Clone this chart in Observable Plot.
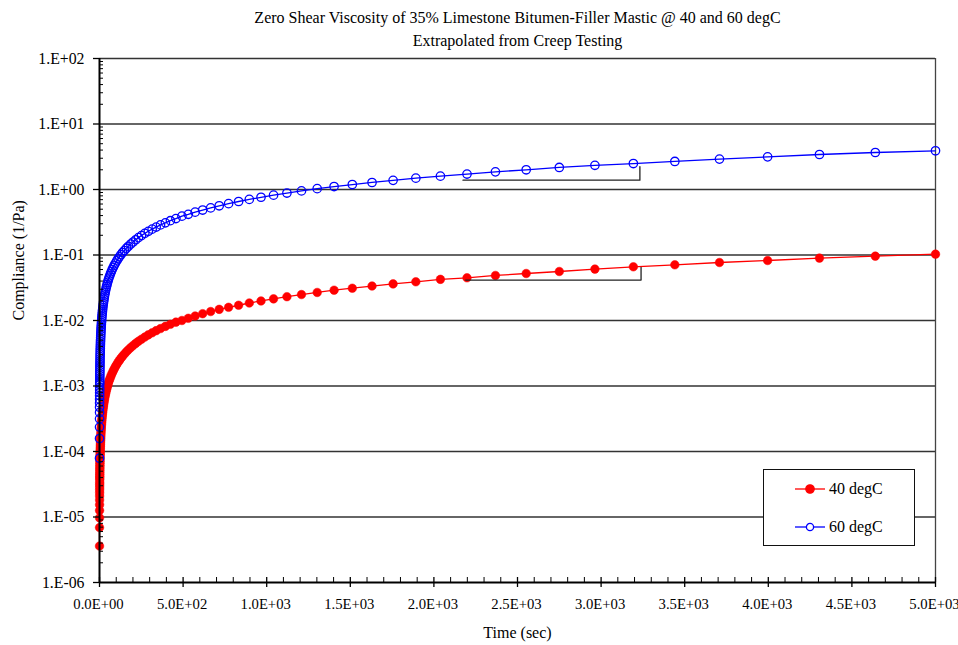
<!DOCTYPE html>
<html>
<head>
<meta charset="utf-8">
<script src="https://cdn.jsdelivr.net/npm/d3@7"></script>
<script src="https://cdn.jsdelivr.net/npm/@observablehq/plot@0.6"></script>
<style>
  html, body { margin: 0; padding: 0; background: #fff; }
  #wrap { position: relative; width: 958px; height: 645px; font-family: "Liberation Serif", "Times New Roman", serif; }
  #legend { position: absolute; left: 763px; top: 469px; width: 152px; height: 77px; border: 1.3px solid #111; background: #fff; box-sizing: border-box; }
  .item { position: absolute; left: 31px; height: 18px; display: flex; align-items: center; font-size: 16px; color: #000; }
  .item svg { margin-right: 3px; }
</style>
</head>
<body>
<div id="wrap"></div>
<script>
// ---- data ----
const seriesNames = ["40 degC", "60 degC"];
const seriesColors = ["#ff0000", "#0000ff"];

// time (sec)
const time = [0.1,0.2,0.3,0.4,0.5,0.6,0.7,0.8,0.9,1.0,1.1,1.2,
  1.35,1.45,1.56,1.68,1.81,1.96,2.11,2.27,2.45,2.64,2.84,3.06,3.30,3.56,3.83,4.13,4.45,4.80,5.17,5.57,
  6.00,6.47,6.97,7.51,8.09,8.72,9.40,10.1,10.9,11.8,12.7,13.7,14.7,15.9,17.1,18.4,19.8,21.4,23.0,24.8,
  26.7,28.8,31.1,33.5,36.1,38.9,41.9,45.1,48.6,52.4,56.5,60.9,65.6,70.7,76.2,82.1,88.4,95.3,103,111,
  119,128,138,149,161,173,187,201,217,233,251,271,292,315,339,365,394,424,457,493,531,572,617,665,716,
  772,832,896,966,1041,1121,1208,1302,1403,1512,1630,1756,1892,2039,2198,2368,2552,2750,2963,3193,3441,
  3708,3996,4306,4640,5000];

// compliance (1/Pa) at 40 degC
const compliance40 = [3.6e-6,6.9e-6,9.7e-6,1.26e-5,1.54e-5,1.82e-5,2.09e-5,2.35e-5,2.61e-5,2.86e-5,3.11e-5,3.35e-5,
  3.71e-5,3.95e-5,4.20e-5,4.48e-5,4.77e-5,5.11e-5,5.44e-5,5.79e-5,6.18e-5,6.59e-5,7.02e-5,7.49e-5,7.99e-5,8.54e-5,9.10e-5,9.73e-5,1.04e-4,1.11e-4,1.19e-4,1.27e-4,
  1.36e-4,1.46e-4,1.56e-4,1.67e-4,1.79e-4,1.92e-4,2.06e-4,2.21e-4,2.37e-4,2.55e-4,2.74e-4,2.95e-4,3.15e-4,3.40e-4,3.65e-4,3.91e-4,4.20e-4,4.53e-4,4.86e-4,5.23e-4,
  5.62e-4,6.06e-4,6.53e-4,7.03e-4,7.56e-4,8.14e-4,8.76e-4,9.42e-4,1.01e-3,1.09e-3,1.18e-3,1.27e-3,1.36e-3,1.47e-3,1.58e-3,1.70e-3,1.83e-3,1.98e-3,2.13e-3,2.30e-3,
  2.46e-3,2.65e-3,2.86e-3,3.08e-3,3.33e-3,3.58e-3,3.86e-3,4.15e-3,4.48e-3,4.81e-3,5.18e-3,5.59e-3,6.03e-3,6.50e-3,7.00e-3,7.53e-3,8.13e-3,8.75e-3,9.43e-3,1.00e-2,1.08e-2,1.17e-2,1.27e-2,1.37e-2,1.48e-2,
  1.59e-2,1.71e-2,1.85e-2,1.99e-2,2.14e-2,2.31e-2,2.49e-2,2.68e-2,2.90e-2,3.11e-2,3.36e-2,3.62e-2,3.90e-2,4.25e-2,4.49e-2,4.87e-2,5.22e-2,5.60e-2,6.09e-2,6.60e-2,7.08e-2,
  7.68e-2,8.24e-2,8.97e-2,9.60e-2,0.103];

// compliance (1/Pa) at 60 degC
const compliance60 = [7.9e-5,1.58e-4,2.36e-4,3.15e-4,3.94e-4,4.73e-4,5.52e-4,6.30e-4,7.09e-4,7.88e-4,8.67e-4,9.46e-4,
  1.06e-3,1.14e-3,1.23e-3,1.32e-3,1.43e-3,1.54e-3,1.66e-3,1.79e-3,1.93e-3,2.08e-3,2.24e-3,2.41e-3,2.60e-3,2.81e-3,3.02e-3,3.25e-3,3.51e-3,3.78e-3,4.07e-3,4.39e-3,
  4.73e-3,5.10e-3,5.49e-3,5.92e-3,6.37e-3,6.87e-3,7.41e-3,7.96e-3,8.59e-3,9.30e-3,1.00e-2,1.08e-2,1.16e-2,1.25e-2,1.35e-2,1.45e-2,1.56e-2,1.69e-2,1.81e-2,1.95e-2,
  2.10e-2,2.27e-2,2.45e-2,2.64e-2,2.84e-2,3.07e-2,3.30e-2,3.55e-2,3.83e-2,4.13e-2,4.45e-2,4.80e-2,5.17e-2,5.57e-2,6.00e-2,6.47e-2,6.97e-2,7.51e-2,8.12e-2,8.75e-2,
  9.38e-2,0.101,0.109,0.117,0.127,0.136,0.147,0.158,0.171,0.184,0.198,0.214,0.230,0.248,0.267,0.288,0.310,0.334,0.360,0.392,0.418,0.451,0.486,0.524,0.564,
  0.608,0.656,0.706,0.761,0.820,0.883,0.952,1.03,1.11,1.19,1.28,1.38,1.49,1.60,1.72,1.86,2.00,2.17,2.34,2.49,2.68,
  2.91,3.15,3.42,3.67,3.90];

// extrapolation brackets
const bracket40Time = [2190, 3239, 3239];
const bracket40Value = [0.0414, 0.0414, 0.0644];
const bracket60Time = [2174, 3232, 3232];
const bracket60Value = [1.39, 1.39, 2.24];

// axes
const xTicks = [0,500,1000,1500,2000,2500,3000,3500,4000,4500,5000];
const yTicks = [1e-6,1e-5,1e-4,1e-3,1e-2,1e-1,1e0,1e1,1e2];
const titleLines = ["Zero Shear Viscosity of 35% Limestone Bitumen-Filler Mastic @ 40 and 60 degC", "Extrapolated from Creep Testing"];
const xLabel = "Time (sec)";
const yLabel = "Compliance (1/Pa)";

// ---- build ----
const rows40 = time.map((t, i) => ({t, j: compliance40[i]}));
const rows60 = time.map((t, i) => ({t, j: compliance60[i]}));
const br40 = bracket40Time.map((t, i) => ({t, j: bracket40Value[i]}));
const br60 = bracket60Time.map((t, i) => ({t, j: bracket60Value[i]}));

const minorY = d3.range(-6, 2).flatMap(e => d3.range(2, 10).map(m => m * Math.pow(10, e)));
const minorX = d3.range(100, 5000, 100).filter(v => v % 500 !== 0);

const fmtY = d => { const e = Math.round(Math.log10(d)); return "1.E" + (e < 0 ? "-" : "+") + String(Math.abs(e)).padStart(2, "0"); };
const fmtX = d => { const [m, e] = d.toExponential(1).split("e"); const n = +e; return m + "E" + (n < 0 ? "-" : "+") + String(Math.abs(n)).padStart(2, "0"); };

const W = 958, H = 645, mL = 99, mR = 23, mT = 58, mB = 63;
const frameW = W - mL - mR, frameH = H - mT - mB;
const serif = "Liberation Serif, Times New Roman, serif";

const chart = Plot.plot({
  width: W, height: H,
  marginLeft: mL, marginRight: mR, marginTop: mT, marginBottom: mB,
  style: {fontFamily: serif, color: "#000", background: "#fff", overflow: "visible"},
  x: {domain: [0, 5000]},
  y: {type: "log", domain: [1e-6, 1e2]},
  marks: [
    // gridlines and plot-area border
    Plot.ruleY(yTicks.slice(1), {stroke: "#333", strokeWidth: 1.3}),
    Plot.ruleX([5000], {stroke: "#444", strokeWidth: 1.3}),
    // data
    Plot.line(rows40, {x: "t", y: "j", stroke: seriesColors[0], strokeWidth: 1.3}),
    Plot.dot(rows40, {x: "t", y: "j", r: 4.3, fill: seriesColors[0], stroke: seriesColors[0], strokeWidth: 0.5}),
    Plot.line(rows60, {x: "t", y: "j", stroke: seriesColors[1], strokeWidth: 1.3}),
    Plot.dot(rows60, {x: "t", y: "j", r: 4.2, fill: "none", stroke: seriesColors[1], strokeWidth: 1.3}),
    // brackets
    Plot.line(br40, {x: "t", y: "j", stroke: "#222", strokeWidth: 1.3}),
    Plot.line(br60, {x: "t", y: "j", stroke: "#222", strokeWidth: 1.3}),
    // minor ticks
    Plot.ruleY(minorY, {insetRight: frameW - 4, stroke: "#000", strokeWidth: 1}),
    Plot.ruleX(minorX, {insetTop: frameH - 5, stroke: "#000", strokeWidth: 1}),
    Plot.ruleX(xTicks, {insetTop: frameH - 5, insetBottom: -5, stroke: "#000", strokeWidth: 1.3}),
    // axes lines
    Plot.ruleY([1e-6], {stroke: "#000", strokeWidth: 1.8}),
    Plot.ruleX([0], {stroke: "#000", strokeWidth: 2}),
    Plot.axisY(yTicks, {tickSize: 6, tickPadding: 9, tickFormat: fmtY, fontSize: 15.8, label: null, strokeWidth: 1.3}),
    Plot.axisX(xTicks, {tickSize: 0, tickPadding: 16, tickFormat: fmtX, fontSize: 14.7, label: null, dx: -1}),
    // titles and labels
    Plot.text([titleLines[0]], {frameAnchor: "top", lineAnchor: "middle", dy: -41, fontSize: 16, text: d => d}),
    Plot.text([titleLines[1]], {frameAnchor: "top", lineAnchor: "middle", dy: -18, fontSize: 16, text: d => d}),
    Plot.text([xLabel], {frameAnchor: "bottom", lineAnchor: "middle", dy: 50, fontSize: 16, text: d => d}),
    Plot.text([yLabel], {frameAnchor: "left", lineAnchor: "middle", dx: -81, rotate: -90, fontSize: 16, text: d => d})
  ]
});

const wrap = document.getElementById("wrap");
wrap.appendChild(chart);

// legend
const legend = document.createElement("div");
legend.id = "legend";
seriesNames.forEach((name, i) => {
  const it = document.createElement("div");
  it.className = "item";
  it.style.top = (i === 0 ? 10 : 48) + "px";
  const filled = i === 0;
  it.innerHTML = `<svg width="31" height="12"><line x1="0" y1="6" x2="30" y2="6" stroke="${seriesColors[i]}" stroke-width="1.3"/>` +
    `<circle cx="15" cy="6" r="${filled ? 4.2 : 3.6}" fill="${filled ? seriesColors[i] : "#fff"}" stroke="${seriesColors[i]}" stroke-width="1.3"/></svg>` +
    `<span>${name}</span>`;
  legend.appendChild(it);
});
wrap.appendChild(legend);
</script>
</body>
</html>
